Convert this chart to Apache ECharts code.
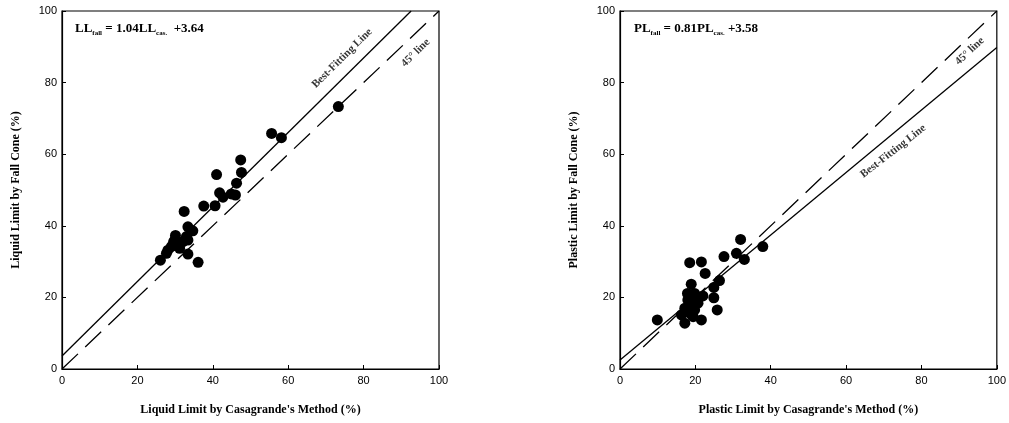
<!DOCTYPE html>
<html>
<head>
<meta charset="utf-8">
<script src="https://cdn.jsdelivr.net/npm/echarts@6/dist/echarts.min.js"></script>
<style>
  html, body { margin: 0; padding: 0; background: #fff; }
  #main { width: 1009px; height: 423px; }
</style>
</head>
<body>
<div id="main"></div>
<script>
// liquid limit: casagrande vs fall cone
var llCas = [73.3, 55.6, 58.2, 47.4, 47.6, 41.0, 46.3, 41.8, 42.7, 44.9, 46.0, 40.6, 37.6, 32.4, 33.4, 34.7,
  30.1, 29.9, 33.0, 32.1, 33.4, 29.0, 31.2, 28.1, 27.7, 33.4, 26.1, 36.1, 31.0, 29.6];
var llFall = [73.3, 65.8, 64.6, 58.4, 54.9, 54.3, 51.9, 49.2, 48.0, 48.9, 48.6, 45.6, 45.5, 44.0, 39.7, 38.6,
  37.3, 36.0, 37.0, 35.6, 36.0, 34.2, 33.7, 33.2, 32.3, 32.1, 30.4, 29.8, 34.2, 35.5];

// plastic limit: casagrande vs fall cone
var plCas = [9.9, 32.0, 37.9, 30.9, 33.0, 27.6, 18.5, 21.6, 22.6, 26.4, 18.9, 24.9, 24.9, 19.8, 22.0, 25.8,
  17.2, 21.6, 18.0, 18.9, 17.2, 19.8, 20.7, 18.5, 16.3, 20.2, 19.4, 17.9];
var plFall = [13.7, 36.2, 34.2, 32.3, 30.6, 31.4, 29.7, 29.9, 26.7, 24.7, 23.7, 22.8, 19.9, 21.1, 20.4, 16.5,
  12.8, 13.7, 19.3, 17.9, 17.0, 16.5, 18.4, 15.6, 15.1, 19.7, 14.6, 21.1];

// reference lines (end points)
var lineX = [0, 100];
var line45 = [0, 100];
var llFitX = [0, 92.6];
var llFitY = [3.64, 100];
var plFitX = [0, 100];
var plFitY = [2.5, 89.8];

function pairs(xs, ys) {
  return xs.map(function (x, i) { return [x, ys[i]]; });
}

var serif = '"Liberation Serif", "DejaVu Serif", serif';
var sans = '"Liberation Sans", Arial, sans-serif';

function makeX(idx, name) {
  return {
    gridIndex: idx, type: 'value', min: 0, max: 100, interval: 20,
    name: name, nameLocation: 'middle', nameGap: 35,
    nameTextStyle: { fontFamily: serif, fontWeight: 'bold', fontSize: 12, color: '#000' },
    axisLine: { onZero: false, lineStyle: { color: '#000', width: 1.2 } },
    axisTick: { inside: true, length: 4, lineStyle: { color: '#000' } },
    axisLabel: { color: '#000', fontFamily: sans, fontSize: 11, margin: 6 },
    splitLine: { show: false }
  };
}
function makeY(idx, name) {
  return {
    gridIndex: idx, type: 'value', min: 0, max: 100, interval: 20,
    name: name, nameLocation: 'middle', nameGap: 40,
    nameTextStyle: { fontFamily: serif, fontWeight: 'bold', fontSize: 12, color: '#000' },
    axisLine: { onZero: false, lineStyle: { color: '#000', width: 1.2 } },
    axisTick: { inside: true, length: 4, lineStyle: { color: '#000' } },
    axisLabel: { color: '#000', fontFamily: sans, fontSize: 11, margin: 5 },
    splitLine: { show: false }
  };
}

function scatter(idx, xs, ys) {
  return {
    type: 'scatter', xAxisIndex: idx, yAxisIndex: idx,
    data: pairs(xs, ys), symbolSize: 11,
    itemStyle: { color: '#000', opacity: 1 }, silent: true, z: 5
  };
}
function line(idx, xs, ys, dashed) {
  return {
    type: 'line', xAxisIndex: idx, yAxisIndex: idx,
    data: pairs(xs, ys), showSymbol: false, silent: true,
    lineStyle: { color: '#000', width: 1.3, type: dashed ? [22, 10] : 'solid' }
  };
}
function tag(idx, x, y, text, rot) {
  return {
    type: 'scatter', xAxisIndex: idx, yAxisIndex: idx,
    data: [[x, y]], symbolSize: 0, silent: true,
    label: {
      show: true, position: 'inside', formatter: text, rotate: rot,
      fontFamily: serif, fontWeight: 'bold', fontSize: 11, color: '#000'
    }
  };
}

var eqRich = {
  b: { fontFamily: serif, fontWeight: 'bold', fontSize: 13, color: '#000' },
  s: { fontFamily: serif, fontWeight: 'bold', fontSize: 7, color: '#000', padding: [9, 0, 0, 0] }
};

var option = {
  backgroundColor: '#fff',
  animation: false,
  grid: [
    { left: 62, top: 11, width: 377, height: 358, show: true, borderColor: '#000', borderWidth: 1.2 },
    { left: 620, top: 11, width: 377, height: 358, show: true, borderColor: '#000', borderWidth: 1.2 }
  ],
  title: [
    { text: '{b|LL}{s|fall}{b| = 1.04LL}{s|cas.}{b|  +3.64}', left: 70, top: 16,
      textStyle: { rich: eqRich } },
    { text: '{b|PL}{s|fall}{b| = 0.81PL}{s|cas.}{b| +3.58}', left: 629, top: 16,
      textStyle: { rich: eqRich } }
  ],
  xAxis: [
    makeX(0, "Liquid Limit by Casagrande's Method (%)"),
    makeX(1, "Plastic Limit by Casagrande's Method (%)")
  ],
  yAxis: [
    makeY(0, 'Liquid Limit by Fall Cone (%)'),
    makeY(1, 'Plastic Limit by Fall Cone (%)')
  ],
  series: [
    line(0, llFitX, llFitY, false),
    line(0, lineX, line45, true),
    scatter(0, llCas, llFall),
    tag(0, 74.3, 86.8, 'Best-Fitting Line', 44.7),
    tag(0, 93.8, 88.3, '45° line', 44),
    line(1, plFitX, plFitY, false),
    line(1, lineX, line45, true),
    scatter(1, plCas, plFall),
    tag(1, 72.5, 60.8, 'Best-Fitting Line', 38),
    tag(1, 92.8, 88.8, '45° line', 43)
  ]
};

var chart = echarts.init(document.getElementById('main'));
chart.setOption(option);
</script>
</body>
</html>
